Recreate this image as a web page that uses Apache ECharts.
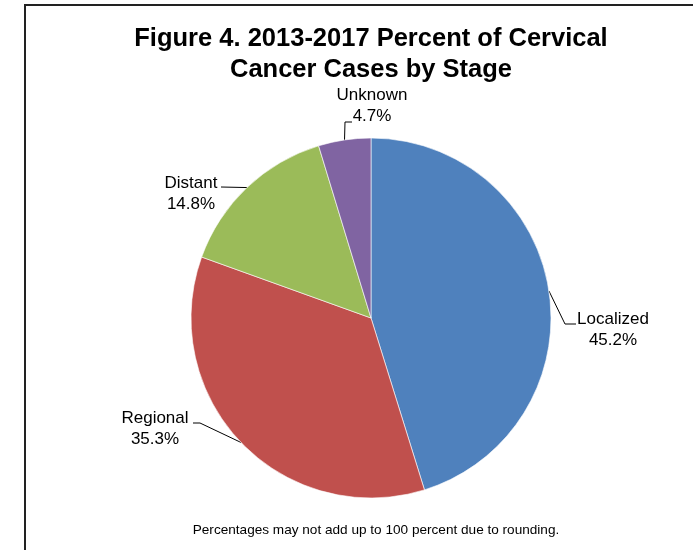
<!DOCTYPE html>
<html><head><meta charset="utf-8">
<script src="https://cdn.jsdelivr.net/npm/echarts@6/dist/echarts.min.js"></script>
<style>html,body{margin:0;padding:0;background:#fff}#c{width:693px;height:550px}</style>
</head><body><div id="c"></div>
<script>
const categories = ['Localized', 'Regional', 'Distant', 'Unknown'];
const percents = [45.2, 35.3, 14.8, 4.7];
const colors = ['#4F81BD', '#C0504D', '#9BBB59', '#8064A2'];
const titleText = 'Figure 4. 2013-2017 Percent of Cervical\nCancer Cases by Stage';
const noteText = 'Percentages may not add up to 100 percent due to rounding.';

// label placement (center of text block) and elbow points, per category
const labelPos = [
  {x: 613, y: 330, line: [[565, 324], [576, 324]]},
  {x: 155, y: 429, line: [[200, 423], [193, 423]]},
  {x: 191, y: 194, line: [[221, 187]]},
  {x: 372, y: 106, line: [[345, 122], [352, 122]]}
];

const chart = echarts.init(document.getElementById('c'));
chart.setOption({
  animation: false,
  graphic: [
    {type: 'polyline', shape: {points: [[25, 550], [25, 5], [693, 5]]}, style: {stroke: '#222', lineWidth: 2, fill: null}},
    {type: 'text', x: 371, y: 23, style: {text: titleText, textAlign: 'center', font: 'bold 25.5px "Liberation Sans", Arial', fill: '#000', lineHeight: 31}},
    {type: 'text', x: 376, y: 523, style: {text: noteText, textAlign: 'center', font: '13.6px "Liberation Sans", Arial', fill: '#000'}}
  ],
  series: [{
    type: 'pie',
    center: [371, 318],
    radius: 180,
    startAngle: 90,
    clockwise: true,
    data: categories.map((c, i) => ({name: c, value: percents[i], itemStyle: {color: colors[i]}})),
    itemStyle: {borderColor: '#fff', borderWidth: 0.6},
    label: {
      show: true, position: 'outside',
      formatter: p => p.name + '\n' + p.value.toFixed(1) + '%',
      fontFamily: 'Liberation Sans, Arial', fontSize: 17, color: '#000', lineHeight: 21, align: 'center'
    },
    labelLine: {show: true, lineStyle: {color: '#000', width: 1}},
    labelLayout: function (params) {
      const lp = labelPos[params.dataIndex];
      const start = params.labelLinePoints ? params.labelLinePoints[0] : lp.line[0];
      return {
        x: lp.x, y: lp.y, align: 'center', verticalAlign: 'middle',
        labelLinePoints: [start].concat(lp.line)
      };
    },
    emphasis: {disabled: true}
  }]
});
</script></body></html>
